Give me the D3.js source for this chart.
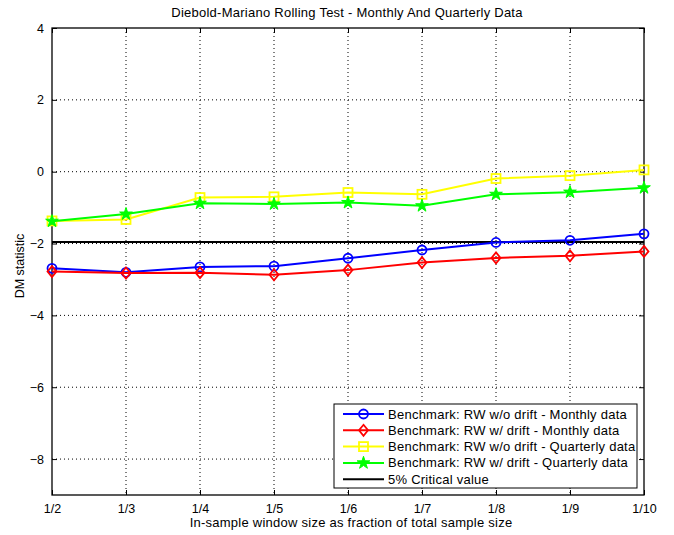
<!DOCTYPE html>
<html><head><meta charset="utf-8">
<script src="https://cdn.jsdelivr.net/npm/d3@7/dist/d3.min.js"></script>
<style>body{margin:0;background:#fff;} text{font-family:"Liberation Sans",Arial,sans-serif;}</style>
</head><body><svg id="c" width="674" height="535"></svg>
<script>
const categories = ["1/2","1/3","1/4","1/5","1/6","1/7","1/8","1/9","1/10"];
const rwNoDriftMonthly = [-2.69,-2.80,-2.65,-2.63,-2.41,-2.18,-1.97,-1.91,-1.73];
const rwDriftMonthly = [-2.78,-2.82,-2.81,-2.87,-2.74,-2.53,-2.40,-2.34,-2.22];
const rwNoDriftQuarterly = [-1.37,-1.33,-0.72,-0.70,-0.58,-0.63,-0.19,-0.11,0.05];
const rwDriftQuarterly = [-1.38,-1.18,-0.88,-0.90,-0.86,-0.95,-0.63,-0.57,-0.45];
const criticalValue = -1.96;
const yTicks = [-8,-6,-4,-2,0,2,4];
const seriesNames = ["Benchmark: RW w/o drift - Monthly data","Benchmark: RW w/ drift - Monthly data","Benchmark: RW w/o drift - Quarterly data","Benchmark: RW w/ drift - Quarterly data"];
const criticalName = "5% Critical value";

const series = [
  {name:seriesNames[0], values:rwNoDriftMonthly, color:"#0000ff", marker:"circle"},
  {name:seriesNames[1], values:rwDriftMonthly, color:"#ff0000", marker:"diamond"},
  {name:seriesNames[2], values:rwNoDriftQuarterly, color:"#ffff00", marker:"square"},
  {name:seriesNames[3], values:rwDriftQuarterly, color:"#00ff00", marker:"star"}
];

const L=52, R=644, T=28, B=495;
const svg=d3.select("#c");
const x=d3.scalePoint().domain(categories).range([L,R]);
const y=d3.scaleLinear().domain([-9,4]).range([B,T]);

// grid
const g=svg.append("g");
categories.forEach(c=>{ if(c!==categories[0]&&c!==categories[categories.length-1])
  g.append("line").attr("x1",x(c)).attr("x2",x(c)).attr("y1",T).attr("y2",B).attr("stroke","#000").attr("stroke-width",1).attr("stroke-dasharray","1,3");});
yTicks.forEach(v=>{ if(v!==4)
  g.append("line").attr("x1",L).attr("x2",R).attr("y1",y(v)).attr("y2",y(v)).attr("stroke","#000").attr("stroke-width",1).attr("stroke-dasharray","1,3");});

// axes
const ax=svg.append("g").attr("transform",`translate(0,${B})`).call(d3.axisBottom(x).tickSizeInner(-5).tickSizeOuter(0).tickPadding(9));
const ay=svg.append("g").attr("transform",`translate(${L},0)`).call(d3.axisLeft(y).tickValues(yTicks).tickSizeInner(-5).tickSizeOuter(0).tickPadding(8).tickFormat(d3.format("d")));
const axt=svg.append("g").attr("transform",`translate(0,${T})`).call(d3.axisTop(x).tickSizeInner(-5).tickSizeOuter(0).tickFormat(""));
const ayr=svg.append("g").attr("transform",`translate(${R},0)`).call(d3.axisRight(y).tickValues(yTicks).tickSizeInner(-5).tickSizeOuter(0).tickFormat(""));
[ax,ay,axt,ayr].forEach(a=>{a.select(".domain").remove();a.selectAll("line").attr("stroke","#000");a.selectAll("text").attr("fill","#000").style("font-size","12.5px").style("font-family","Liberation Sans, Arial, sans-serif");});
svg.append("rect").attr("x",L).attr("y",T).attr("width",R-L).attr("height",B-T).attr("fill","none").attr("stroke","#000").attr("stroke-width",1.3);

// critical value
svg.append("line").attr("x1",L).attr("x2",R).attr("y1",y(criticalValue)).attr("y2",y(criticalValue)).attr("stroke","#000").attr("stroke-width",2);

const line=d3.line().x((d,i)=>x(categories[i])).y(d=>y(d));
function marker(sel,type,color,cx,cy){
  if(type==="circle") sel.append("circle").attr("cx",cx).attr("cy",cy).attr("r",4.5).attr("fill","none").attr("stroke",color).attr("stroke-width",1.8);
  else if(type==="diamond") sel.append("path").attr("d",`M${cx},${cy-5.5}L${cx+4.5},${cy}L${cx},${cy+5.5}L${cx-4.5},${cy}Z`).attr("fill","none").attr("stroke",color).attr("stroke-width",1.8);
  else if(type==="square") sel.append("rect").attr("x",cx-4.5).attr("y",cy-4.5).attr("width",9).attr("height",9).attr("fill","none").attr("stroke",color).attr("stroke-width",1.8);
  else if(type==="star") sel.append("path").attr("d",d3.symbol().type(d3.symbolStar).size(50)()).attr("transform",`translate(${cx},${cy})`).attr("fill",color).attr("stroke",color).attr("stroke-width",1);
}
series.forEach(s=>{
  svg.append("path").datum(s.values).attr("d",line).attr("fill","none").attr("stroke",s.color).attr("stroke-width",2);
  s.values.forEach((v,i)=>marker(svg,s.marker,s.color,x(categories[i]),y(v)));
});

const txtStyle = sel => sel.style("font-size","13px").style("letter-spacing","0.25px").attr("fill","#000");

// legend
const lg=svg.append("g");
lg.append("rect").attr("x",334).attr("y",404).attr("width",303).attr("height",84).attr("fill","#fff").attr("stroke","#000").attr("stroke-width",1);
const rows=[...series.map(s=>({name:s.name,color:s.color,marker:s.marker})),{name:criticalName,color:"#000",marker:null}];
rows.forEach((r,i)=>{
  const yy=414+i*16.3;
  lg.append("line").attr("x1",343).attr("x2",384).attr("y1",yy).attr("y2",yy).attr("stroke",r.color).attr("stroke-width",2);
  if(r.marker) marker(lg,r.marker,r.color,363.5,yy);
  lg.append("text").attr("x",388).attr("y",yy+4.5).call(txtStyle).text(r.name);
});

// titles
svg.append("text").attr("x",347).attr("y",17).attr("text-anchor","middle").call(txtStyle).text("Diebold-Mariano Rolling Test - Monthly And Quarterly Data");
svg.append("text").attr("x",351).attr("y",527).attr("text-anchor","middle").call(txtStyle).text("In-sample window size as fraction of total sample size");
svg.append("text").attr("transform","translate(24,266) rotate(-90)").attr("text-anchor","middle").style("font-size","12.5px").attr("fill","#000").text("DM statistic");
</script></body></html>
